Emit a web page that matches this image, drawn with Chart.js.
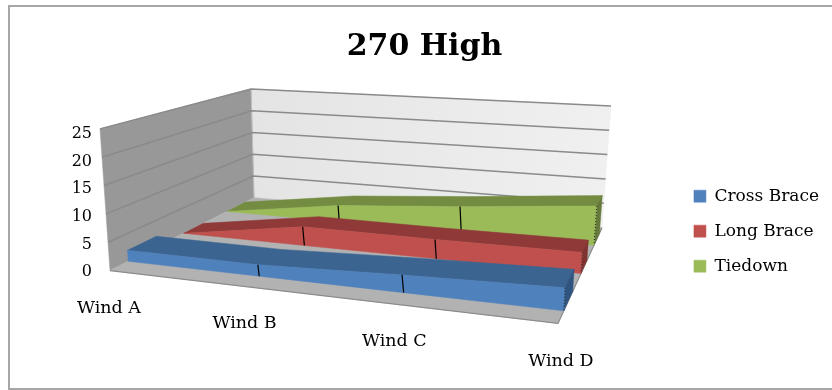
<!DOCTYPE html>
<html>
<head>
<meta charset="utf-8">
<style>
    html, body { margin: 0; padding: 0; background: #fff; }
    #wrap { width: 832px; height: 390px; }
</style>
<script src="https://cdn.jsdelivr.net/npm/chart.js@4"></script>
</head>
<body>
<div id="wrap"><canvas id="chart" width="832" height="390"></canvas></div>
<script>
const categories = ["Wind A", "Wind B", "Wind C", "Wind D"];
const crossBrace = [2, 2, 3, 3.8];
const longBrace = [0, 3.6, 3.6, 3.8];
const tiedown = [0, 3.4, 5.3, 7.6];
const valueTicks = [0, 5, 10, 15, 20, 25];
const seriesNames = ["Cross Brace", "Long Brace", "Tiedown"];

const FONT = "'DejaVu Serif', serif";
const MAX_VALUE = 25;

// corners of the 3d box on the page: [front-left, front-right, back-left, back-right]
const floorQuad = [[110, 271], [558, 324], [254, 198], [602, 228]];
const topQuad = [[100, 129], [566, 168], [251, 89], [611, 106]];

// depth range of each series inside the box, 0 = front, 1 = back
const slots = [[0.1, 0.27], [0.445, 0.585], [0.767, 0.923]];
const faceColors = [
    { front: "#4f81bd", top: "#3b6491", side: "#2f5480" },
    { front: "#c0504d", top: "#8f3a38", side: "#7f3230" },
    { front: "#9bbb59", top: "#748c42", side: "#64793a" }
];

function quadMapper(q) {
    const [p0, p1, p3, p2] = [q[0], q[1], q[2], q[3]];
    const dx1 = p1[0] - p2[0], dx2 = p3[0] - p2[0], sx = p0[0] - p1[0] + p2[0] - p3[0];
    const dy1 = p1[1] - p2[1], dy2 = p3[1] - p2[1], sy = p0[1] - p1[1] + p2[1] - p3[1];
    const den = dx1 * dy2 - dx2 * dy1;
    const g = (sx * dy2 - dx2 * sy) / den;
    const h = (dx1 * sy - sx * dy1) / den;
    const a = p1[0] - p0[0] + g * p1[0], b = p3[0] - p0[0] + h * p3[0];
    const d = p1[1] - p0[1] + g * p1[1], e = p3[1] - p0[1] + h * p3[1];
    return (u, w) => {
        const z = g * u + h * w + 1;
        return [(a * u + b * w + p0[0]) / z, (d * u + e * w + p0[1]) / z];
    };
}

const onFloor = quadMapper(floorQuad);
const onTop = quadMapper(topQuad);

function project(u, w, value) {
    const f = onFloor(u, w);
    const t = onTop(u, w);
    const k = value / MAX_VALUE;
    return { x: f[0] + (t[0] - f[0]) * k, y: f[1] + (t[1] - f[1]) * k };
}

function catU(i) {
    return i / (categories.length - 1);
}

function polygon(points, fill, extra) {
    return Object.assign({
        data: points.concat([points[0]]),
        showLine: true,
        fill: "shape",
        backgroundColor: fill,
        borderColor: fill,
        borderWidth: 0.5,
        pointRadius: 0,
        tension: 0
    }, extra || {});
}

function line(points, color, width, extra) {
    return Object.assign({
        data: points,
        showLine: true,
        fill: false,
        borderColor: color,
        backgroundColor: color,
        borderWidth: width,
        pointRadius: 0,
        tension: 0
    }, extra || {});
}

function buildLayers(ctx) {
    const layers = [];

    const backFade = ctx.createLinearGradient(251, 0, 611, 0);
    backFade.addColorStop(0, "#e4e4e4");
    backFade.addColorStop(1, "#f0f0f0");

    layers.push(polygon([project(0, 1, 0), project(1, 1, 0), project(1, 1, MAX_VALUE), project(0, 1, MAX_VALUE)], backFade));
    layers.push(polygon([project(0, 0, 0), project(0, 1, 0), project(0, 1, MAX_VALUE), project(0, 0, MAX_VALUE)], "#989898"));
    layers.push(polygon([project(0, 0, 0), project(1, 0, 0), project(1, 1, 0), project(0, 1, 0)], "#b2b2b2"));
    layers.push(line([project(0, 0, 0), project(1, 0, 0), project(1, 1, 0)], "#8c8c8c", 1.2));
    layers.push(line([project(0, 1, 0), project(0, 1, MAX_VALUE)], "#bdbdbd", 1));

    valueTicks.forEach(tick => {
        if (tick === 0) {
            return;
        }
        layers.push(line([project(0, 0, tick), project(0, 1, tick), project(1, 1, tick)], "#8a8a8a", 1.5));
    });

    const allSeries = [crossBrace, longBrace, tiedown];

    for (let s = allSeries.length - 1; s >= 0; s--) {
        const values = allSeries[s];
        const [w0, w1] = slots[s];
        const colors = faceColors[s];
        const last = values.length - 1;

        const frontTop = values.map((v, i) => project(catU(i), w0, v));
        const frontBottom = values.map((v, i) => project(catU(i), w0, 0));
        const backTop = values.map((v, i) => project(catU(i), w1, v));
        const backBottom = project(catU(last), w1, 0);

        layers.push(polygon(frontTop.concat(backTop.slice().reverse()), colors.top));
        layers.push(polygon([frontTop[last], backTop[last], backBottom, frontBottom[last]], colors.side));
        layers.push(polygon(frontTop.concat(frontBottom.slice().reverse()), colors.front, { label: seriesNames[s] }));

        values.forEach((v, i) => {
            if (i === 0) {
                return;
            }
            if (i === last) {
                layers.push(line([frontTop[i], frontBottom[i]], "#222", 1, { borderDash: [1, 2] }));
            } else {
                layers.push(line([frontTop[i], frontBottom[i]], "#000", 1.2));
            }
        });
    }

    // first dataset is painted last, and the legend reads blue first
    return layers.reverse();
}

const axisText = {
    id: "axisText",
    afterDatasetsDraw(chart) {
        const { ctx } = chart;
        ctx.save();
        ctx.fillStyle = "#000";
        ctx.font = "16px " + FONT;
        ctx.textAlign = "right";
        ctx.textBaseline = "middle";
        const left = project(0, 0, 0).x;
        valueTicks.forEach(tick => {
            const p = project(0, 0, tick);
            ctx.fillText(String(tick), left - 18, p.y + 1 + tick * 0.16);
        });
        ctx.font = "17.5px " + FONT;
        ctx.textAlign = "center";
        categories.forEach((name, i) => {
            const p = project(catU(i), 0, 0);
            ctx.fillText(name, p.x - 1 + i * 1.3, p.y + 37);
        });
        ctx.restore();
    }
};

// the reference frame has no right edge inside the picture
const frame = {
    id: "frame",
    beforeDraw(chart) {
        const { ctx } = chart;
        ctx.save();
        ctx.strokeStyle = "#a6a6a6";
        ctx.lineWidth = 2;
        ctx.beginPath();
        ctx.moveTo(832, 6);
        ctx.lineTo(9, 6);
        ctx.lineTo(9, 389);
        ctx.lineTo(832, 389);
        ctx.stroke();
        ctx.restore();
    }
};

const canvas = document.getElementById("chart");
const chart = new Chart(canvas, {
    type: "scatter",
    data: { datasets: buildLayers(canvas.getContext("2d")) },
    options: {
        responsive: false,
        animation: false,
        layout: { padding: { top: 29, left: 20, right: 3 } },
        scales: {
            x: { type: "linear", display: false, min: 0, max: 832 },
            y: { type: "linear", display: false, min: 0, max: 390, reverse: true }
        },
        plugins: {
            tooltip: { enabled: false },
            title: {
                display: true,
                text: "270 High",
                color: "#000",
                font: { family: FONT, size: 30, weight: "bold" },
                padding: { top: 0, bottom: 8 }
            },
            legend: {
                position: "right",
                fullSize: false,
                labels: {
                    color: "#000",
                    font: { family: FONT, size: 17 },
                    boxWidth: 12,
                    boxHeight: 12,
                    padding: 18,
                    filter: item => Boolean(item.text)
                }
            }
        }
    },
    plugins: [frame, axisText]
});

// axes are hidden: line their ranges up with the area left by title and legend
const area = chart.chartArea;
chart.options.scales.x.min = area.left;
chart.options.scales.x.max = area.right;
chart.options.scales.y.min = area.top;
chart.options.scales.y.max = area.bottom;
chart.update("none");
</script>
</body>
</html>
